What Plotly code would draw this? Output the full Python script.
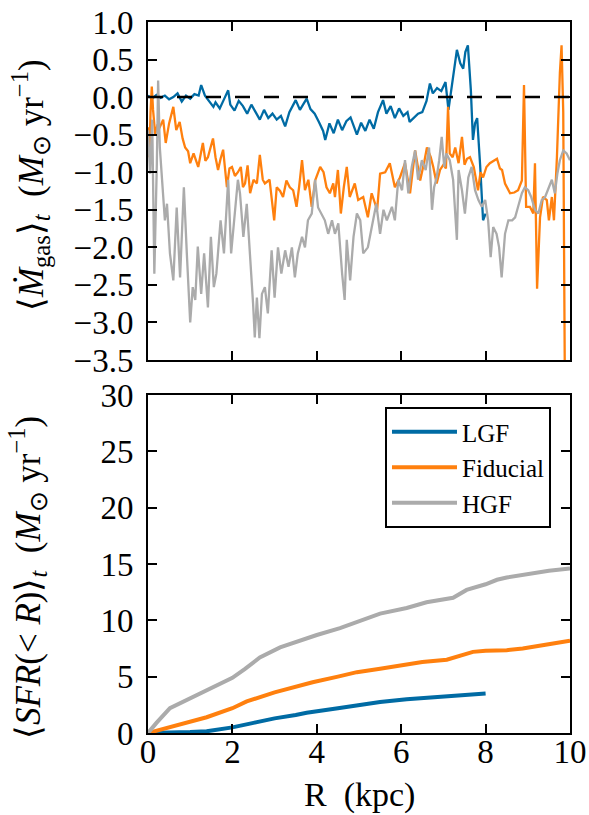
import plotly.graph_objects as go

# ---------------- data: top panel, <Mdot_gas>_t (Msun/yr) vs R (kpc) ----------------
lgf_top_r = [0.0, 0.1, 0.2, 0.3, 0.4, 0.5, 0.6, 0.7, 0.8, 0.9, 1.0, 1.1, 1.2, 1.26, 1.35, 1.45,
             1.55, 1.6, 1.7, 1.8, 1.9, 1.95, 2.05, 2.15, 2.25, 2.35, 2.45, 2.55, 2.65, 2.75, 2.85,
             2.95, 3.05, 3.15, 3.25, 3.35, 3.45, 3.5, 3.6, 3.7, 3.76, 3.85, 3.95, 4.05, 4.15, 4.2,
             4.3, 4.4, 4.5, 4.6, 4.7, 4.8, 4.9, 4.95, 5.05, 5.15, 5.25, 5.35, 5.45, 5.57, 5.65,
             5.75, 5.85, 5.95, 6.05, 6.15, 6.2, 6.3, 6.4, 6.5, 6.6, 6.68, 6.75, 6.85, 6.95, 7.05,
             7.12, 7.2, 7.28, 7.32, 7.4, 7.47, 7.52, 7.58, 7.65, 7.7, 7.75, 7.8, 7.87, 7.94, 8.0]
lgf_top_v = [0.02, -0.02, 0.03, -0.01, 0.02, -0.03, 0.0, 0.05, -0.06, 0.02, -0.02, 0.04, 0.02, 0.16,
             0.02, -0.05, -0.13, -0.07, -0.15, -0.03, 0.09, -0.1, -0.18, -0.05, -0.12, -0.22, -0.1,
             -0.2, -0.3, -0.17, -0.28, -0.22, -0.3, -0.25, -0.39, -0.2, -0.1, -0.04, -0.17, -0.07,
             -0.02, -0.16, -0.22, -0.33, -0.45, -0.57, -0.35, -0.48, -0.3, -0.44, -0.32, -0.27,
             -0.42, -0.5, -0.34, -0.45, -0.3, -0.42, -0.2, -0.04, -0.22, -0.12, -0.28, -0.15, -0.25,
             -0.2, -0.33, -0.27, -0.22, -0.2, -0.05, 0.18, 0.05, 0.12, 0.08, 0.2, -0.17, 0.15, 0.5,
             0.63, 0.45, 0.38, 0.6, 0.69, 0.1, -0.57, -0.35, -0.28, -0.9, -1.64, -1.55]

fid_top_r = [0.0, 0.03, 0.06, 0.09, 0.12, 0.17, 0.22, 0.28, 0.36, 0.42, 0.5, 0.6, 0.67, 0.75, 0.82,
             0.88, 0.95, 1.0, 1.08, 1.19, 1.3, 1.36, 1.42, 1.48, 1.54, 1.6, 1.66, 1.72, 1.78, 1.87,
             1.93, 1.99, 2.06, 2.13, 2.2, 2.25, 2.3, 2.36, 2.42, 2.5, 2.58, 2.65, 2.72, 2.77, 2.88,
             2.99, 3.05, 3.13, 3.2, 3.28, 3.36, 3.44, 3.52, 3.58, 3.65, 3.72, 3.8, 3.88, 3.96, 4.08,
             4.16, 4.23, 4.31, 4.39, 4.43, 4.5, 4.57, 4.64, 4.71, 4.78, 4.9, 4.98, 5.1, 5.21, 5.3,
             5.43, 5.5, 5.62, 5.73, 5.85, 5.97, 6.09, 6.21, 6.33, 6.45, 6.55, 6.61, 6.7, 6.76, 6.84,
             6.92, 7.0, 7.06, 7.11, 7.15, 7.22, 7.28, 7.36, 7.44, 7.5, 7.56, 7.63, 7.72, 7.82, 7.88,
             7.94, 8.02, 8.1, 8.2, 8.27, 8.34, 8.39, 8.46, 8.52, 8.58, 8.68, 8.77, 8.86, 8.91, 8.96,
             9.05, 9.13, 9.17, 9.22, 9.29, 9.36, 9.45, 9.5, 9.57, 9.62, 9.69, 9.76, 9.8, 9.84, 9.88]
fid_top_v = [-0.4, -0.8, -0.2, 0.14, -0.17, -0.49, -0.38, -0.4, -0.3, -0.61, -0.35, -0.13, -0.44,
             -0.33, -0.55, -0.67, -0.72, -0.88, -0.75, -0.93, -0.61, -0.85, -0.8, -0.68, -0.55, -0.8,
             -0.97, -0.82, -0.7, -1.2, -0.95, -0.93, -1.05, -1.0, -0.93, -1.2, -1.15, -0.91, -1.28,
             -1.1, -1.15, -0.77, -1.1, -1.15, -1.1, -1.64, -1.2, -1.25, -1.33, -1.11, -1.2, -1.24,
             -1.46, -1.2, -0.84, -1.24, -1.1, -1.46, -1.11, -0.93, -1.0, -1.2, -1.28, -1.15, -1.33,
             -0.97, -1.55, -1.2, -0.93, -1.33, -1.15, -1.37, -1.33, -1.6, -1.28, -1.5, -1.02, -1.0,
             -0.88, -1.2, -1.07, -0.88, -1.28, -0.71, -1.11, -0.85, -0.67, -0.8, -0.93, -1.15, -0.97,
             -0.9, -0.95, -0.13, -0.75, -0.8, -0.67, -0.88, -0.53, -0.9, -0.82, -0.8, -0.93, -1.24,
             -1.0, -1.07, -0.93, -0.88, -0.85, -0.82, -0.95, -0.97, -1.15, -1.22, -1.28, -1.27, -1.24,
             -1.11, 0.16, -1.46, -1.46, -1.55, -0.88, -2.55, -1.6, -1.33, -1.37, -1.64, -1.33, -1.64,
             -0.8, 0.32, 0.69, -0.2, -4.0]

hgf_top_r = [0.0, 0.05, 0.1, 0.15, 0.21, 0.24, 0.28, 0.36, 0.4, 0.45, 0.52, 0.6, 0.68, 0.76, 0.85,
             0.92, 1.0, 1.06, 1.12, 1.18, 1.26, 1.33, 1.42, 1.49, 1.56, 1.62, 1.72, 1.8, 1.9, 1.97,
             2.04, 2.13, 2.18, 2.26, 2.34, 2.42, 2.49, 2.53, 2.58, 2.64, 2.7, 2.77, 2.84, 2.93, 3.0,
             3.08, 3.16, 3.25, 3.33, 3.41, 3.48, 3.55, 3.65, 3.72, 3.79, 3.88, 3.96, 4.03, 4.11, 4.19,
             4.27, 4.36, 4.43, 4.51, 4.6, 4.66, 4.71, 4.79, 4.87, 4.95, 5.03, 5.1, 5.21, 5.33, 5.41,
             5.5, 5.58, 5.66, 5.78, 5.85, 5.93, 6.02, 6.09, 6.17, 6.25, 6.33, 6.4, 6.49, 6.58, 6.66,
             6.73, 6.78, 6.84, 6.9, 6.96, 7.02, 7.07, 7.15, 7.23, 7.32, 7.36, 7.44, 7.51, 7.59, 7.67,
             7.75, 7.83, 7.91, 7.99, 8.06, 8.12, 8.18, 8.26, 8.32, 8.38, 8.46, 8.54, 8.63, 8.7, 8.77,
             8.86, 8.93, 9.01, 9.08, 9.17, 9.25, 9.33, 9.41, 9.48, 9.57, 9.64, 9.7, 9.76, 9.84, 9.92,
             10.0]
hgf_top_v = [-0.44, -1.02, -0.3, -2.35, -0.88, 0.22, -0.67, -1.28, -1.64, -1.42, -2.08, -2.44, -1.47,
             -2.4, -1.2, -2.08, -3.0, -2.53, -2.7, -1.99, -2.62, -2.08, -2.8, -1.86, -2.53, -2.35,
             -1.64, -2.08, -1.1, -2.08, -1.64, -1.1, -1.28, -1.86, -1.42, -2.08, -2.75, -3.2, -2.67,
             -3.21, -2.62, -2.53, -2.88, -2.04, -2.67, -2.0, -2.35, -2.04, -2.26, -2.0, -2.4, -2.08,
             -1.86, -2.0, -1.64, -1.55, -1.1, -1.47, -1.55, -1.64, -1.82, -1.64, -1.82, -1.68, -2.35,
             -2.7, -1.9, -2.44, -1.86, -1.55, -1.64, -2.08, -2.0, -1.64, -1.42, -1.82, -1.5, -1.64,
             -1.46, -1.64, -1.1, -1.24, -0.84, -1.28, -0.93, -0.71, -1.1, -0.84, -0.97, -0.67, -1.5,
             -1.2, -1.07, -0.84, -0.53, -0.93, -0.75, -0.84, -1.1, -1.9, -0.97, -1.24, -1.55, -1.07,
             -0.93, -1.24, -1.37, -1.46, -1.37, -1.64, -2.13, -1.73, -1.82, -2.0, -2.4, -1.82, -1.64,
             -1.64, -1.6, -1.46, -1.28, -1.2, -1.24, -1.33, -1.5, -1.55, -1.37, -1.33, -1.24, -1.1,
             -1.28, -1.02, -0.84, -0.71, -0.75, -0.84]

# ---------------- data: bottom panel, <SFR(<R)>_t (Msun/yr) ----------------
lgf_sfr_r = [0.0, 0.5, 1.0, 1.39, 1.7, 2.0, 2.5, 3.0, 3.5, 3.76, 4.5, 5.0, 5.5, 6.13, 6.5, 7.0, 7.4,
             7.7, 8.0]
lgf_sfr_v = [0.0, 0.02, 0.08, 0.15, 0.3, 0.5, 0.9, 1.3, 1.6, 1.8, 2.2, 2.5, 2.75, 3.0, 3.1, 3.2,
             3.3, 3.45, 3.5]
fid_sfr_r = [0.0, 0.5, 1.0, 1.39, 2.0, 2.34, 3.0, 3.9, 4.5, 4.95, 5.5, 5.97, 6.5, 7.08, 7.4, 7.7,
             8.0, 8.5, 8.88, 9.29, 9.6, 10.0]
fid_sfr_v = [0.0, 0.5, 1.0, 1.4, 2.2, 2.8, 3.6, 4.5, 5.0, 5.4, 5.7, 6.0, 6.3, 6.5, 6.9, 7.2, 7.3,
             7.35, 7.5, 7.8, 7.95, 8.2]
hgf_sfr_r = [0.0, 0.2, 0.52, 1.0, 1.5, 2.0, 2.3, 2.65, 3.13, 3.6, 4.0, 4.55, 5.0, 5.5, 6.13, 6.6,
             7.23, 7.55, 8.0, 8.27, 8.5, 9.0, 9.5, 10.0]
hgf_sfr_v = [0.0, 0.9, 2.2, 3.1, 4.0, 4.9, 5.7, 6.7, 7.6, 8.2, 8.7, 9.3, 9.9, 10.6, 11.1, 11.6,
             12.0, 12.7, 13.2, 13.6, 13.8, 14.1, 14.4, 14.6]

labels = ["LGF", "Fiducial", "HGF"]
colors = ["#006BA4", "#FF800E", "#ABABAB"]

top_series = [(lgf_top_r, lgf_top_v), (fid_top_r, fid_top_v), (hgf_top_r, hgf_top_v)]
bot_series = [(lgf_sfr_r, lgf_sfr_v), (fid_sfr_r, fid_sfr_v), (hgf_sfr_r, hgf_sfr_v)]

FONT = "Liberation Serif"

fig = go.Figure()
for (r, v), c, name in zip(top_series, colors, labels):
    fig.add_trace(go.Scatter(x=r, y=v, mode="lines", line=dict(color=c, width=2.3),
                             xaxis="x", yaxis="y", showlegend=False, name=name))
for (r, v), c, name in zip(bot_series, colors, labels):
    fig.add_trace(go.Scatter(x=r, y=v, mode="lines", line=dict(color=c, width=4),
                             xaxis="x2", yaxis="y2", showlegend=True, name=name))

axis_common = dict(showline=True, linecolor="black", linewidth=2, mirror="allticks",
                   ticks="inside", ticklen=9, tickwidth=1.5, tickcolor="black",
                   showgrid=False, zeroline=False, automargin=False,
                   tickfont=dict(family=FONT, size=33, color="black"))

fig.update_layout(
    width=589, height=815,
    margin=dict(l=148, r=19, t=22, b=82, autoexpand=False),
    paper_bgcolor="white", plot_bgcolor="white",
    xaxis=dict(domain=[0, 1], anchor="y", range=[0, 10], dtick=2, showticklabels=False,
               **axis_common),
    yaxis=dict(domain=[0.5246, 1], anchor="x", range=[-3.5, 1.0], dtick=0.5, tickformat=".1f",
               ticklabelstandoff=6, **axis_common),
    xaxis2=dict(domain=[0, 1], anchor="y2", range=[0, 10], dtick=2, ticklabelstandoff=-12,
                **axis_common),
    yaxis2=dict(domain=[0, 0.4754], anchor="x2", range=[0, 30], dtick=5,
                ticklabelstandoff=6, **axis_common),
    legend=dict(x=0.5616, y=0.4585, xanchor="left", yanchor="top",
                bordercolor="black", borderwidth=2, bgcolor="white", itemwidth=65,
                font=dict(family=FONT, size=25, color="black"), tracegroupgap=0),
    shapes=[dict(type="line", xref="x", yref="y", x0=0, x1=10, y0=0, y1=0,
                 line=dict(color="black", width=2.5, dash="15px,14px"), layer="above")],
    annotations=[
        dict(text="⟨<i>Ṁ</i><sub>gas</sub>⟩<sub><i>t</i></sub>  (<i>M</i><sub>⊙</sub> yr<sup>−1</sup>)",
             xref="paper", yref="paper", x=-0.2796, y=0.7707, textangle=-90,
             showarrow=False, xanchor="center", yanchor="middle",
             font=dict(family=FONT, size=35, color="black")),
        dict(text="⟨<i>SFR</i>(&lt; <i>R</i>)⟩<sub><i>t</i></sub>  (<i>M</i><sub>⊙</sub> yr<sup>−1</sup>)",
             xref="paper", yref="paper", x=-0.2867, y=0.218, textangle=-90,
             showarrow=False, xanchor="center", yanchor="middle",
             font=dict(family=FONT, size=35, color="black")),
        dict(text="R  (kpc)", xref="paper", yref="paper", x=0.5, y=-0.0872,
             showarrow=False, xanchor="center", yanchor="middle",
             font=dict(family=FONT, size=34, color="black")),
    ],
)

fig.write_html("out.html")
